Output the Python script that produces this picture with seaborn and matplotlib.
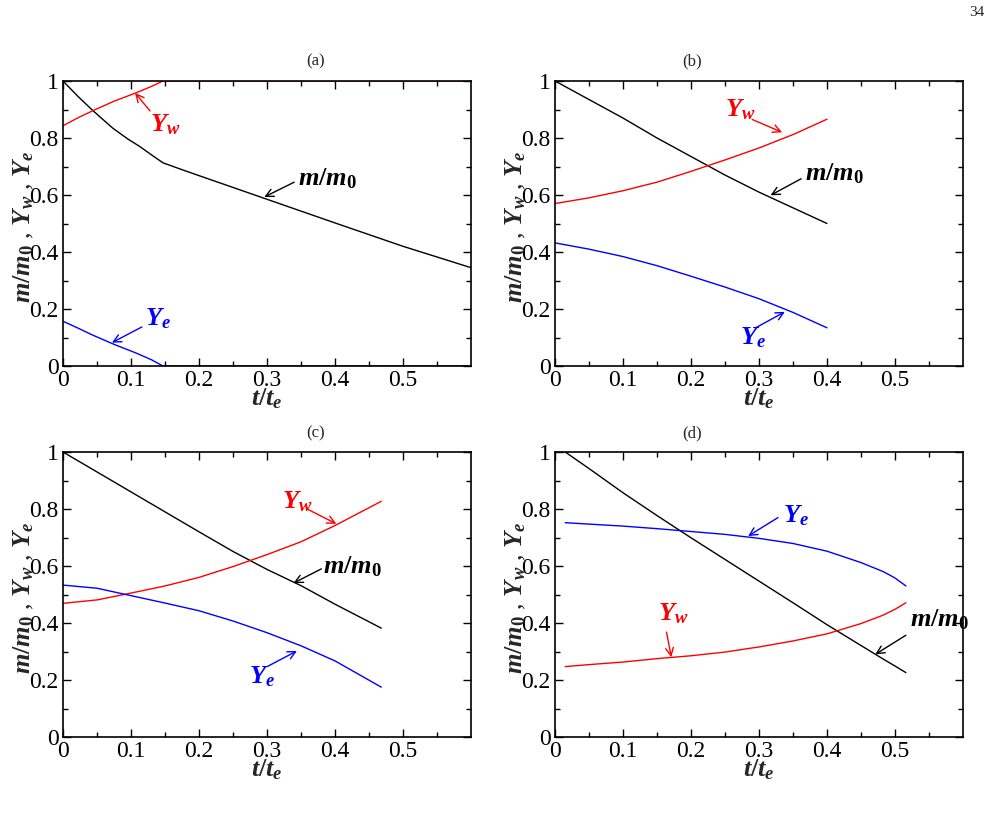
import numpy as np
import pandas as pd
import matplotlib
matplotlib.use("Agg")
import matplotlib.pyplot as plt
import seaborn as sns

# panel (a)
a_t_m = [0, 0.022, 0.044, 0.0735, 0.095, 0.113, 0.13, 0.147, 0.176, 0.2, 0.3, 0.4, 0.5, 0.6]
a_m = [1.0, 0.946, 0.896, 0.834, 0.797, 0.77, 0.741, 0.713, 0.688, 0.668, 0.585, 0.502, 0.42, 0.345]
a_t_y = [0, 0.022, 0.044, 0.075, 0.108, 0.13, 0.147, 0.6]
a_yw = [0.843, 0.871, 0.896, 0.929, 0.959, 0.981, 1.0, 1.0]
a_ye = [0.157, 0.133, 0.108, 0.076, 0.045, 0.022, 0.0, 0.0]

# panel (b)
b_t = [0, 0.05, 0.1, 0.15, 0.2, 0.25, 0.3, 0.35, 0.4]
b_m = [1.0, 0.935, 0.87, 0.80, 0.735, 0.67, 0.61, 0.555, 0.50]
b_yw = [0.57, 0.59, 0.615, 0.645, 0.683, 0.723, 0.765, 0.812, 0.866]
b_ye = [0.432, 0.41, 0.384, 0.352, 0.315, 0.277, 0.236, 0.188, 0.134]

# panel (c)
c_t = [0, 0.05, 0.1, 0.15, 0.2, 0.25, 0.3, 0.35, 0.4, 0.468]
c_m = [1.0, 0.93, 0.86, 0.79, 0.72, 0.651, 0.588, 0.531, 0.466, 0.382]
c_yw = [0.469, 0.481, 0.505, 0.53, 0.56, 0.598, 0.64, 0.685, 0.742, 0.827]
c_ye = [0.533, 0.522, 0.496, 0.47, 0.443, 0.407, 0.366, 0.32, 0.267, 0.175]

# panel (d)
d_t = [0.015, 0.05, 0.1, 0.15, 0.2, 0.25, 0.3, 0.35, 0.4, 0.45, 0.483, 0.5, 0.516]
d_m = [1.0, 0.942, 0.857, 0.777, 0.699, 0.623, 0.547, 0.471, 0.394, 0.321, 0.273, 0.249, 0.226]
d_yw = [0.247, 0.254, 0.263, 0.275, 0.285, 0.298, 0.316, 0.337, 0.362, 0.398, 0.428, 0.448, 0.471]
d_ye = [0.752, 0.747, 0.74, 0.731, 0.721, 0.711, 0.697, 0.679, 0.652, 0.612, 0.58, 0.558, 0.53]

panel_names = ["(a)", "(b)", "(c)", "(d)"]
x_ticks = [0, 0.1, 0.2, 0.3, 0.4, 0.5]
x_tick_labels = ["0", "0.1", "0.2", "0.3", "0.4", "0.5"]
y_ticks = [0, 0.2, 0.4, 0.6, 0.8, 1.0]
y_tick_labels = ["0", "0.2", "0.4", "0.6", "0.8", "1"]

sns.set_theme(style="ticks")
plt.rcParams["font.family"] = ["Liberation Serif", "DejaVu Serif"]
plt.rcParams["mathtext.fontset"] = "custom"
plt.rcParams["mathtext.it"] = "Liberation Serif:italic:bold"
plt.rcParams["mathtext.rm"] = "Liberation Serif:bold"
plt.rcParams["mathtext.bf"] = "Liberation Serif:bold"

fig = plt.figure(figsize=(9.99, 8.15), dpi=100)
W, H = 999, 815
boxes = [(63, 81), (555, 81), (63, 452), (555, 452)]  # left, top in pixels
aw, ah = 408, 285

series = [
    [(a_t_m, a_m, "black"), (a_t_y, a_yw, "red"), (a_t_y, a_ye, "blue")],
    [(b_t, b_m, "black"), (b_t, b_yw, "red"), (b_t, b_ye, "blue")],
    [(c_t, c_m, "black"), (c_t, c_yw, "red"), (c_t, c_ye, "blue")],
    [(d_t, d_m, "black"), (d_t, d_yw, "red"), (d_t, d_ye, "blue")],
]

# (text, text xy, arrow tail, arrow tip, colour)
notes = [
    [(r"$Y_{\mathit{w}}$", (0.128, 0.845), (0.128, 0.895), (0.106, 0.958), "red"),
     (r"$m/m_{\mathit{0}}$", (0.345, 0.657), (0.34, 0.645), (0.296, 0.593), "black"),
     (r"$Y_{\mathit{e}}$", (0.121, 0.166), (0.116, 0.137), (0.072, 0.082), "blue")],
    [(r"$Y_{\mathit{w}}$", (0.25, 0.90), (0.29, 0.865), (0.334, 0.82), "red"),
     (r"$m/m_{\mathit{0}}$", (0.367, 0.675), (0.362, 0.657), (0.317, 0.599), "black"),
     (r"$Y_{\mathit{e}}$", (0.272, 0.10), (0.295, 0.134), (0.338, 0.19), "blue")],
    [(r"$Y_{\mathit{w}}$", (0.322, 0.825), (0.359, 0.80), (0.402, 0.748), "red"),
     (r"$m/m_{\mathit{0}}$", (0.383, 0.596), (0.38, 0.59), (0.339, 0.54), "black"),
     (r"$Y_{\mathit{e}}$", (0.273, 0.21), (0.301, 0.248), (0.344, 0.302), "blue")],
    [(r"$Y_{\mathit{w}}$", (0.151, 0.433), (0.164, 0.368), (0.171, 0.28), "red"),
     (r"$m/m_{\mathit{0}}$", (0.522, 0.41), (0.516, 0.357), (0.471, 0.29), "black"),
     (r"$Y_{\mathit{e}}$", (0.335, 0.778), (0.328, 0.77), (0.284, 0.705), "blue")],
]

title_x = [316, 692, 316, 692]
title_y = [61, 61, 433, 433]

for i, (left, top) in enumerate(boxes):
    ax = fig.add_axes([left / W, 1 - (top + ah) / H, aw / W, ah / H])
    for xs, ys, col in series[i]:
        sns.lineplot(x=xs, y=ys, ax=ax, color=col, lw=1.0, sort=False)
    ax.set_xlim(0, 0.6)
    ax.set_ylim(0, 1)
    ax.set_xticks(x_ticks)
    ax.set_xticklabels(x_tick_labels)
    ax.set_xticks(np.arange(0.05, 0.6, 0.1), minor=True)
    ax.set_yticks(y_ticks)
    ax.set_yticklabels(y_tick_labels)
    ax.set_yticks([0.1, 0.3, 0.5, 0.7, 0.9], minor=True)
    ax.tick_params(which="both", direction="in", top=True, right=True,
                   labelsize=17, width=1.0, colors="black")
    ax.tick_params(which="major", length=6, pad=3)
    ax.tick_params(which="minor", length=3.5)
    for s in ax.spines.values():
        s.set_linewidth(1.2)
        s.set_color("black")
    ax.set_xlabel(r"$t/t_{\mathit{e}}$", fontsize=19)
    ax.set_ylabel(r"$m/m_{\mathit{0}}$ , $Y_{\mathit{w}}$ , $Y_{\mathit{e}}$", fontsize=19)
    ax.xaxis.set_label_coords(0.5, -0.072)
    ax.yaxis.set_label_coords(-0.066, 0.49)
    for txt, xy, tail, tip, col in notes[i]:
        ax.annotate("", xy=tip, xytext=tail,
                    arrowprops=dict(arrowstyle="->", color=col, lw=1.0,
                                    shrinkA=0, shrinkB=0, mutation_scale=14))
        ax.text(xy[0], xy[1], txt, color=col, fontsize=19, ha="left", va="center")
    fig.text(title_x[i] / W, 1 - title_y[i] / H, panel_names[i],
             fontsize=12, ha="center", va="center")

fig.text(977 / W, 1 - 12 / H, "34", fontsize=11, ha="center", va="center")

fig.savefig("out.png", dpi=100)
